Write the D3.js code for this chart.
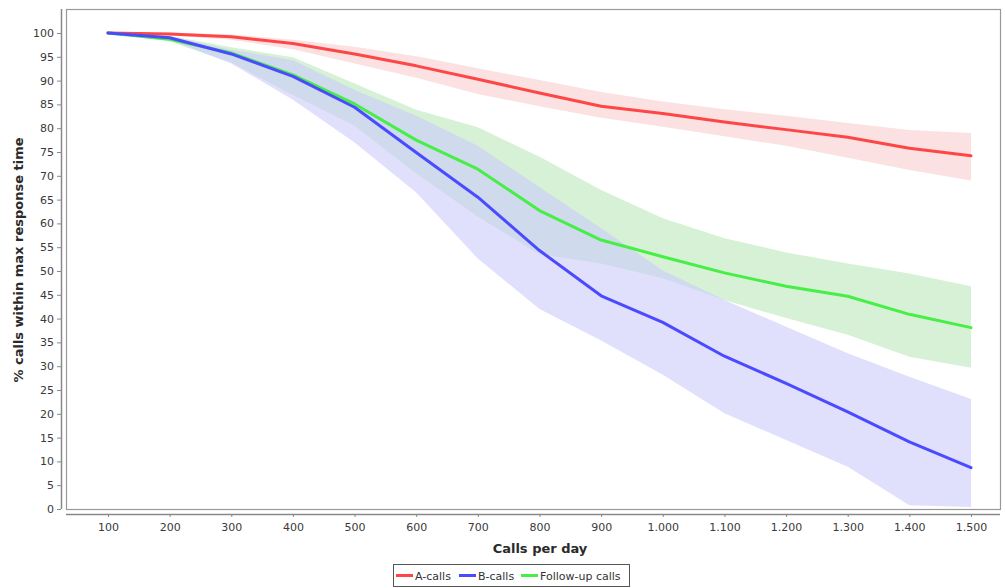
<!DOCTYPE html>
<html>
<head>
<meta charset="utf-8">
<script src="https://cdn.jsdelivr.net/npm/d3@7"></script>
<style>
  html, body { margin: 0; padding: 0; background: #fff; }
  svg { display: block; }
  text { font-family: "DejaVu Sans", Verdana, sans-serif; }
</style>
</head>
<body>
<svg id="chart" width="1005" height="588"></svg>
<script>
// ---- data ----
const calls = [100, 200, 300, 400, 500, 600, 700, 800, 900, 1000, 1100, 1200, 1300, 1400, 1500];

const aMean = [100, 99.8, 99.2, 97.8, 95.6, 93.1, 90.3, 87.4, 84.6, 83.1, 81.3, 79.7, 78.1, 75.8, 74.2];
const aLow  = [100, 99.5, 98.6, 96.6, 93.6, 90.6, 87.2, 84.6, 82.2, 80.3, 78.3, 76.3, 73.8, 71.2, 69.0];
const aHigh = [100, 100.1, 99.7, 98.6, 97.1, 95.1, 92.6, 90.1, 87.6, 85.6, 84.0, 82.6, 81.1, 79.6, 79.0];

const bMean = [100, 99.0, 95.6, 90.9, 84.4, 74.9, 65.5, 54.3, 44.8, 39.2, 32.1, 26.4, 20.4, 14.1, 8.7];
const bLow  = [100, 98.6, 93.6, 86.0, 77.0, 66.5, 52.6, 42.0, 35.4, 28.2, 20.1, 14.5, 8.9, 0.8, 0.4];
const bHigh = [100, 99.3, 96.5, 94.3, 88.0, 82.6, 76.3, 67.6, 59.0, 50.1, 43.9, 38.3, 32.7, 27.8, 23.1];

const gMean = [100, 98.7, 95.8, 91.2, 85.1, 77.5, 71.4, 62.7, 56.5, 53.0, 49.6, 46.8, 44.7, 40.9, 38.1];
const gLow  = [100, 98.2, 93.8, 87.0, 80.5, 70.5, 61.4, 53.5, 51.6, 48.5, 43.9, 40.1, 36.6, 32.0, 29.7];
const gHigh = [100, 99.4, 97.0, 94.9, 89.4, 83.9, 80.2, 74.0, 67.0, 61.1, 56.9, 53.9, 51.6, 49.5, 46.8];

const yTicks = d3.range(0, 101, 5);
const seriesNames = ["A-calls", "B-calls", "Follow-up calls"];

// ---- layout ----
const box = { left: 66, right: 1000, top: 9, bottom: 509 };
const svg = d3.select("#chart");

const x = d3.scaleLinear().domain([100, 1500]).range([108, 971]);
const y = d3.scaleLinear().domain([0, 100]).range([509, 33]);

const locale = d3.formatLocale({ decimal: ",", thousands: ".", grouping: [3], currency: ["", ""] });
const fmt = locale.format(",");

const series = [
  { name: seriesNames[0], mean: aMean, low: aLow, high: aHigh, line: "#ff4646", band: "#fbe1e1", op: 1 },
  { name: seriesNames[2], mean: gMean, low: gLow, high: gHigh, line: "#46ee46", band: "#d6f1d6", op: 1 },
  { name: seriesNames[1], mean: bMean, low: bLow, high: bHigh, line: "#4a4aff", band: "rgb(203,203,252)", op: 0.6 }
];

// plot box
svg.append("rect")
  .attr("x", box.left + 0.5).attr("y", box.top + 0.5)
  .attr("width", box.right - box.left).attr("height", box.bottom - box.top)
  .attr("fill", "#fff").attr("stroke", "#999").attr("stroke-width", 1.2);

const g = svg.append("g");

// bands
const area = d3.area()
  .x((d, i) => x(calls[i]))
  .y0(d => y(d[0]))
  .y1(d => y(d[1]));

series.forEach(s => {
  const pts = calls.map((c, i) => [s.low[i], s.high[i]]);
  g.append("path").attr("d", area(pts)).attr("fill", s.band).attr("fill-opacity", s.op);
});

// lines
const line = d3.line().x((d, i) => x(calls[i])).y(d => y(d));
series.forEach(s => {
  g.append("path").attr("d", line(s.mean))
    .attr("fill", "none").attr("stroke", s.line)
    .attr("stroke-width", 3).attr("stroke-linejoin", "round").attr("stroke-linecap", "round");
});

// y axis
const yAxis = d3.axisLeft(y).tickValues(yTicks).tickSize(4).tickPadding(3).tickSizeOuter(0);
const ya = svg.append("g").attr("transform", "translate(61,0)").call(yAxis);
ya.select(".domain").attr("d", `M0.5,${box.top}V${box.bottom}`);

// x axis
const xAxis = d3.axisBottom(x).tickValues(calls).tickFormat(fmt).tickSize(3).tickPadding(6).tickSizeOuter(0);
const xa = svg.append("g").attr("transform", "translate(0,514)").call(xAxis);
xa.select(".domain").attr("d", `M${box.left},0.5H${box.right}`);

[ya, xa].forEach(a => {
  a.select(".domain").attr("stroke", "#888").attr("stroke-width", 1.5);
  a.selectAll(".tick line").attr("stroke", "#888");
  a.selectAll(".tick text").attr("fill", "#3a3a3a").style("font-size", "11px")
    .style("font-family", '"DejaVu Sans", Verdana, sans-serif');
});

// axis titles
svg.append("text")
  .attr("x", 540).attr("y", 553)
  .attr("text-anchor", "middle")
  .attr("fill", "#2a2a2a")
  .style("font-size", "13px").style("font-weight", "bold")
  .text("Calls per day");

svg.append("text")
  .attr("transform", "translate(23,260) rotate(-90)")
  .attr("text-anchor", "middle")
  .attr("fill", "#2a2a2a")
  .style("font-size", "13px").style("font-weight", "bold")
  .text("% calls within max response time");

// legend
const legend = svg.append("g");
legend.append("rect")
  .attr("x", 393.5).attr("y", 564.5).attr("width", 236).attr("height", 22)
  .attr("fill", "#fff").attr("stroke", "#555").attr("stroke-width", 1);

const legendItems = [
  { name: seriesNames[0], color: "#ff4646", x0: 396 },
  { name: seriesNames[1], color: "#4a4aff", x0: 459 },
  { name: seriesNames[2], color: "#46ee46", x0: 521 }
];
legendItems.forEach(it => {
  legend.append("line")
    .attr("x1", it.x0).attr("x2", it.x0 + 17)
    .attr("y1", 575.5).attr("y2", 575.5)
    .attr("stroke", it.color).attr("stroke-width", 3);
  legend.append("text")
    .attr("x", it.x0 + 19).attr("y", 579.5)
    .attr("fill", "#333").style("font-size", "11px")
    .text(it.name);
});
</script>
</body>
</html>
